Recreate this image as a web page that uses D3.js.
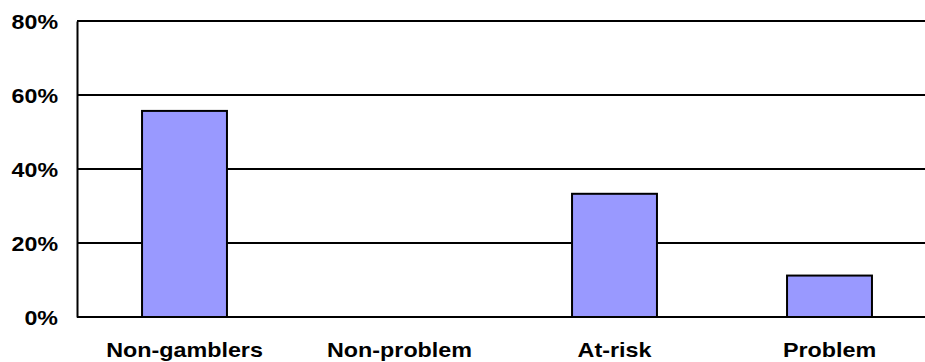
<!DOCTYPE html>
<html>
<head>
<meta charset="utf-8">
<script src="https://cdn.jsdelivr.net/npm/d3@7"></script>
<style>
  html, body { margin: 0; padding: 0; background: #fff; }
  svg { display: block; }
  text { font-family: "Liberation Sans", Arial, sans-serif; font-weight: bold; fill: #000; }
</style>
</head>
<body>
<svg id="chart" width="925" height="362"></svg>
<script>
// Share of respondents by gambling group (percent)
const categories = ["Non-gamblers", "Non-problem", "At-risk", "Problem"];
const shares = [55.7, 0, 33.3, 11.2];
const yTicks = [0, 20, 40, 60, 80];

const svg = d3.select("#chart");
const plotLeft = 77, plotTop = 21, plotBottom = 317;
const plotRight = 937; // plot runs slightly past the visible edge

const x = d3.scaleBand().domain(categories).range([plotLeft, plotRight]).paddingInner(0.605).paddingOuter(0.3025);
const y = d3.scaleLinear().domain([0, 80]).range([plotBottom, plotTop]);

// Widen glyphs a little to get the broad bold lettering
function widen(sel, factor) {
  sel.each(function () {
    const w = this.getComputedTextLength();
    d3.select(this).attr("textLength", w * factor).attr("lengthAdjust", "spacingAndGlyphs");
  });
}

// Horizontal gridlines
svg.append("g").selectAll("line")
  .data(yTicks)
  .join("line")
  .attr("x1", plotLeft).attr("x2", 925)
  .attr("y1", d => y(d)).attr("y2", d => y(d))
  .attr("stroke", "#000").attr("stroke-width", 2);

// Y axis with percentage labels
const yAxis = d3.axisLeft(y).tickValues(yTicks).tickSize(0).tickPadding(19).tickFormat(d => d + "%");
const gy = svg.append("g").attr("transform", `translate(${plotLeft},0)`).call(yAxis);
gy.select(".domain").attr("stroke", "#000").attr("stroke-width", 2);
gy.selectAll("text").attr("font-size", 20).attr("dy", "0.36em")
  .style("font-family", "'Liberation Sans', Arial, sans-serif").style("font-weight", "bold")
  .call(widen, 1.16);

// Bars
svg.append("g").selectAll("rect")
  .data(categories.map((c, i) => ({ c, v: shares[i] })).filter(d => d.v > 0))
  .join("rect")
  .attr("x", d => x(d.c))
  .attr("width", x.bandwidth())
  .attr("y", d => y(d.v))
  .attr("height", d => y(0) - y(d.v))
  .attr("fill", "#9999FF")
  .attr("stroke", "#000")
  .attr("stroke-width", 2);

// Category labels
const xAxis = d3.axisBottom(x).tickSize(0).tickPadding(25);
const gx = svg.append("g").attr("transform", `translate(0,${plotBottom})`).call(xAxis);
gx.select(".domain").remove();
gx.selectAll("text").attr("font-size", 21)
  .style("font-family", "'Liberation Sans', Arial, sans-serif").style("font-weight", "bold")
  .call(widen, 1.11);
</script>
</body>
</html>
